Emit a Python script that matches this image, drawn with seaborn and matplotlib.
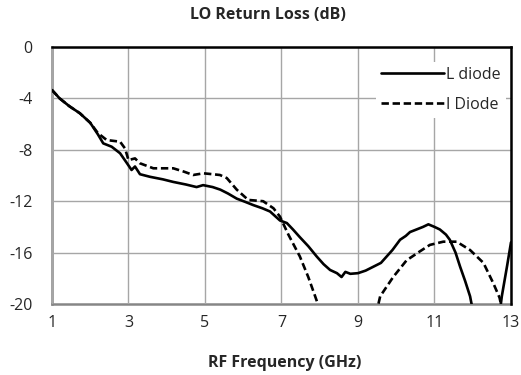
import numpy as np
import pandas as pd
import seaborn as sns
import matplotlib.pyplot as plt

# L diode (solid)
l_freq = [1.0, 1.2, 1.45, 1.73, 2.0, 2.2, 2.34, 2.56, 2.78, 2.95, 3.08, 3.17, 3.3,
          3.56, 3.9, 4.17, 4.5, 4.78, 4.95, 5.2, 5.4, 5.6, 5.83, 6.05, 6.26, 6.5,
          6.7, 6.96, 7.14, 7.3, 7.48, 7.7, 7.92, 8.1, 8.27, 8.45, 8.57, 8.67, 8.8,
          9.0, 9.2, 9.4, 9.6, 9.75, 9.9, 10.1, 10.25, 10.36, 10.53, 10.7, 10.84,
          11.0, 11.14, 11.3, 11.4, 11.55, 11.67, 11.8, 11.93, 12.1, 12.4, 12.65,
          12.76, 12.9, 13.0]
l_loss = [-3.35, -4.0, -4.6, -5.16, -5.9, -6.8, -7.5, -7.76, -8.27, -9.0, -9.57, -9.3,
          -9.9, -10.1, -10.3, -10.5, -10.7, -10.9, -10.75, -10.9, -11.1, -11.4,
          -11.8, -12.05, -12.3, -12.55, -12.8, -13.5, -13.7, -14.2, -14.8, -15.5,
          -16.3, -16.9, -17.35, -17.6, -17.9, -17.5, -17.65, -17.6, -17.4, -17.1,
          -16.8, -16.3, -15.8, -15.0, -14.7, -14.4, -14.2, -14.0, -13.8, -14.0,
          -14.2, -14.6, -15.0, -16.0, -17.1, -18.2, -19.4, -22.0, -24.0, -22.0,
          -19.4, -17.0, -15.2]

# I Diode (dashed)
i_freq = [1.0, 1.2, 1.45, 1.73, 2.0, 2.2, 2.43, 2.78, 2.91, 3.0, 3.17, 3.3, 3.65,
          4.17, 4.45, 4.69, 4.96, 5.2, 5.39, 5.57, 5.83, 6.13, 6.52, 6.79, 6.96,
          7.18, 7.48, 7.7, 7.88, 8.3, 8.8, 9.3, 9.58, 9.92, 10.27, 10.62, 10.88,
          11.23, 11.58, 11.93, 12.28, 12.54, 12.7, 12.85, 13.0]
i_loss = [-3.35, -4.0, -4.6, -5.16, -5.9, -6.7, -7.24, -7.37, -7.9, -8.8, -8.67,
          -9.05, -9.44, -9.44, -9.7, -9.96, -9.83, -9.9, -9.96, -10.2, -11.1,
          -11.9, -12.0, -12.55, -13.2, -14.6, -16.3, -17.9, -19.4, -23.0, -25.0,
          -23.0, -19.4, -17.9, -16.6, -15.9, -15.4, -15.15, -15.15, -15.8, -16.8,
          -18.4, -19.5, -21.5, -23.0]

x_ticks = [1, 3, 5, 7, 9, 11, 13]
y_ticks = [0, -4, -8, -12, -16, -20]

sns.set_theme(style='white')
plt.rcParams['font.family'] = ['Open Sans', 'DejaVu Sans']
FS = 11.5

fig = plt.figure(figsize=(5.21, 3.75), dpi=100)
ax = fig.add_axes([0.0998, 0.1893, 0.881, 0.6854])

l_df = pd.DataFrame({'freq': l_freq, 'loss': l_loss})
i_df = pd.DataFrame({'freq': i_freq, 'loss': i_loss})
sns.lineplot(data=l_df, x='freq', y='loss', ax=ax, color='black', lw=1.9,
             label='L diode', sort=False)
sns.lineplot(data=i_df, x='freq', y='loss', ax=ax, color='black', lw=1.9,
             label='I Diode', sort=False, linestyle=(0, (2.8, 1.4)))

ax.set_xlim(1, 13)
ax.set_ylim(-20, 0)
ax.set_xticks(x_ticks)
ax.set_yticks(y_ticks)
ax.set_xticklabels([str(t) for t in x_ticks], fontsize=FS)
ax.set_yticklabels([str(t) for t in y_ticks], fontsize=FS)
ax.tick_params(axis='x', length=0, pad=8)
ax.tick_params(axis='y', length=0, pad=14)
ax.grid(True, color='#a6a6a6', lw=1.0)
ax.set_xlabel('')
ax.set_ylabel('')

for side in ['top', 'right']:
    ax.spines[side].set_color('black')
    ax.spines[side].set_linewidth(1.8)
for side in ['left', 'bottom']:
    ax.spines[side].set_color('#868686')
    ax.spines[side].set_linewidth(1.8)
    ax.spines[side].set_zorder(0.5)

leg = ax.legend(loc='upper right', bbox_to_anchor=(0.995, 0.955), fontsize=FS,
                frameon=True, facecolor='white', edgecolor='none', framealpha=1,
                fancybox=False, handlelength=4.0, handletextpad=0.1,
                labelspacing=0.9, borderpad=0.3, borderaxespad=0.2)

fig.text(268 / 521, 1 - 15 / 375, 'LO Return Loss (dB)', ha='center',
         va='center', fontsize=FS, fontweight='bold')
fig.text(285 / 521, 1 - 363 / 375, 'RF Frequency (GHz)', ha='center',
         va='center', fontsize=FS, fontweight='bold')

fig.savefig('out.png', dpi=100)
